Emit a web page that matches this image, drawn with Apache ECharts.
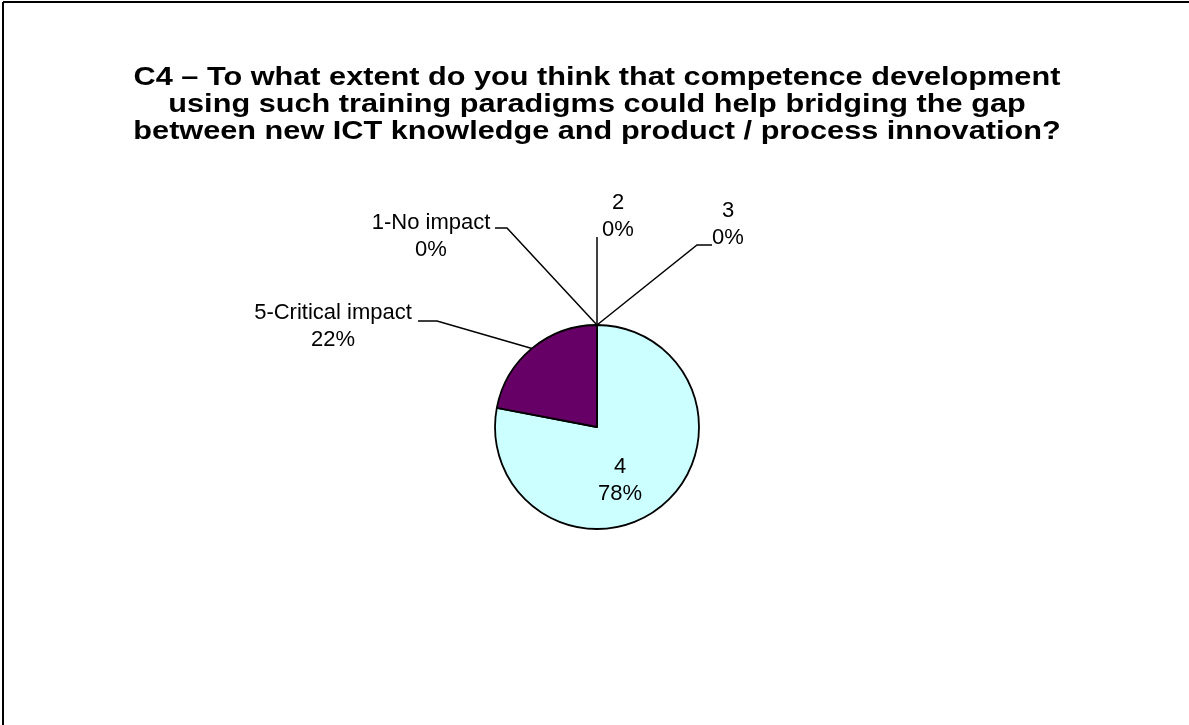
<!DOCTYPE html>
<html>
<head>
<meta charset="utf-8">
<title>C4 pie</title>
<script src="https://cdn.jsdelivr.net/npm/echarts@6/dist/echarts.min.js"></script>
<style>
html, body { margin: 0; padding: 0; background: #fff; }
#main { width: 1189px; height: 725px; }
</style>
</head>
<body>
<div id="main"></div>
<script>
// data
var categories = ['1-No impact', '2', '3', '4', '5-Critical impact'];
var shares = [0, 0, 0, 78, 22];
var sliceColors = ['#9999FF', '#993366', '#FFFFCC', '#CCFFFF', '#660066'];
var titleLines = [
    'C4 \u2013 To what extent do you think that competence development',
    'using such training paradigms could help bridging the gap',
    'between new ICT knowledge and product / process innovation?'
];

// where the labels sit (dragged by hand in the original)
var labelSpots = {
    0: { x: 431, y: 236, line: [[507, 228], [495, 228]] },
    1: { x: 618, y: 216, line: [[597, 237]] },
    2: { x: 728, y: 224, line: [[697, 245], [712, 245]] },
    3: { x: 620, y: 480 },
    4: { x: 333, y: 326, line: [[437, 321], [418, 321]] }
};

var chart = echarts.init(document.getElementById('main'));

var pieData = categories.map(function (name, i) {
    return {
        name: name,
        value: shares[i],
        itemStyle: { color: sliceColors[i] },
        label: i === 3 ? { position: 'inside' } : {},
        labelLine: { show: i !== 3 }
    };
});

// title drawn as text, a little wider than the plain font like the original
var titleGraphics = titleLines.map(function (line, i) {
    return {
        type: 'text',
        x: 597,
        y: 78 + i * 27,
        scaleX: 1.18,
        style: {
            text: line,
            font: 'bold 26px "Liberation Sans", Arial, sans-serif',
            fill: '#000',
            textAlign: 'center',
            textVerticalAlign: 'middle'
        }
    };
});

var option = {
    backgroundColor: '#ffffff',
    animation: false,
    graphic: [
        { type: 'line', shape: { x1: 3, y1: 2, x2: 1189, y2: 2 }, style: { stroke: '#000', lineWidth: 2 } },
        { type: 'line', shape: { x1: 3, y1: 2, x2: 3, y2: 725 }, style: { stroke: '#000', lineWidth: 2 } }
    ].concat(titleGraphics),
    series: [{
        type: 'pie',
        center: [597, 427],
        radius: 102,
        startAngle: 90,
        clockwise: true,
        avoidLabelOverlap: false,
        stillShowZeroSum: true,
        minShowLabelAngle: 0,
        itemStyle: { borderColor: '#000', borderWidth: 1.8 },
        emphasis: { disabled: true },
        label: {
            show: true,
            position: 'outside',
            formatter: function (p) { return p.name + '\n' + Math.round(p.percent) + '%'; },
            fontFamily: 'Liberation Sans, Arial, sans-serif',
            fontSize: 22,
            lineHeight: 27,
            color: '#000',
            align: 'center'
        },
        labelLine: {
            show: true,
            lineStyle: { color: '#000', width: 1.5 }
        },
        labelLayout: function (p) {
            var spot = labelSpots[p.dataIndex];
            if (!spot) return {};
            var out = { x: spot.x, y: spot.y, align: 'center', verticalAlign: 'middle' };
            if (spot.line && p.labelLinePoints) {
                out.labelLinePoints = [p.labelLinePoints[0]].concat(spot.line);
            }
            return out;
        },
        data: pieData
    }]
};

chart.setOption(option);

window.onresize = function () {
    chart.resize();
};
</script>
</body>
</html>
